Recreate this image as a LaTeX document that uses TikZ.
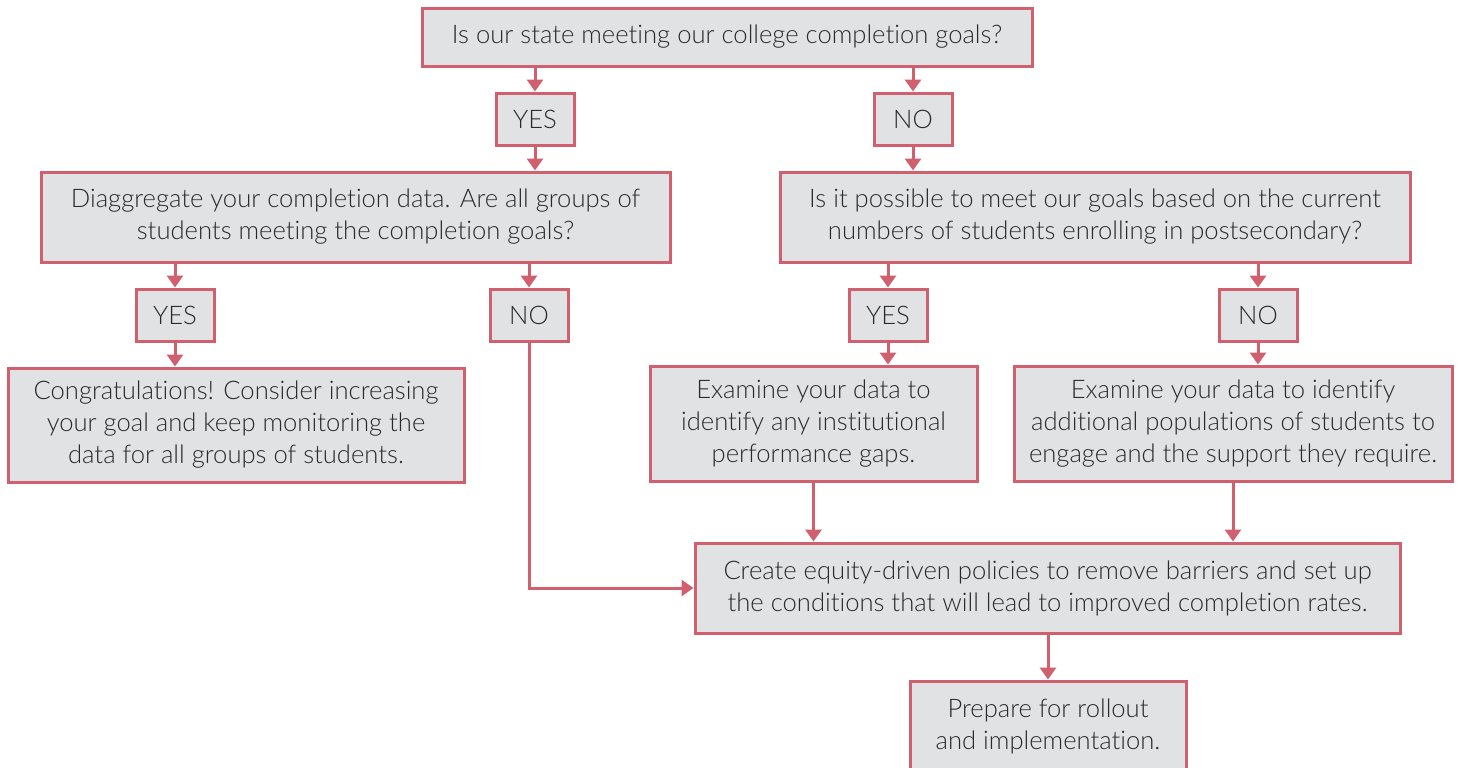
\documentclass[tikz,border=0pt]{standalone}
\usepackage{fontspec}
\setmainfont{Lato}[UprightFont={* Light}, BoldFont={* Regular}, Ligatures={NoCommon}]
\usetikzlibrary{arrows.meta}
\definecolor{bord}{HTML}{D0606E}
\definecolor{boxfill}{HTML}{E1E2E4}
\definecolor{txtc}{HTML}{2A2A2A}
\tikzset{
  box/.style={draw=bord, fill=boxfill, line width=1.5pt, inner sep=0pt, align=center,
    text=txtc, font=\fontsize{12.8pt}{16pt}\selectfont},
  plaintxt/.style={inner sep=0pt, align=center, text=txtc, font=\fontsize{12.8pt}{16pt}\selectfont},
  arr/.style={draw=bord, line width=1.5pt, -{Triangle[width=8pt,length=6pt]}}
}
\begin{document}
\begin{tikzpicture}[x=0.5pt,y=-0.5pt]
\useasboundingbox (0,0) rectangle (1457,767);
\node[box, minimum width=305pt, minimum height=29pt] (top) at (727,37) {Is our state meeting our college completion goals?};
\node[box, minimum width=39pt, minimum height=26pt] (yes1) at (535,119) {YES};
\node[box, minimum width=39pt, minimum height=26pt] (no1) at (913,119) {NO};
\node[box, minimum width=314.5pt, minimum height=45pt] (diag) at (355.5,217) {Diaggregate your completion data. Are all groups of\\students meeting the completion goals?};
\node[box, minimum width=315pt, minimum height=45pt] (poss) at (1095,217) {Is it possible to meet our goals based on the current\\numbers of students enrolling in postsecondary?};
\node[box, minimum width=39pt, minimum height=26pt] (yes2) at (175,315) {YES};
\node[box, minimum width=39pt, minimum height=26pt] (no2) at (529,315) {NO};
\node[box, minimum width=39pt, minimum height=26pt] (yes3) at (888,315) {YES};
\node[box, minimum width=39pt, minimum height=26pt] (no3) at (1258,315) {NO};
\node[box, minimum width=228pt, minimum height=57pt] (cong) at (236,425) {Congratulations! Consider increasing\\your goal and keep monitoring the\\data for all groups of students.};
\node[box, minimum width=163.5pt, minimum height=57.5pt] (ex1) at (813.5,423.5) {Examine your data to\\identify any institutional\\performance gaps.};
\node[box, minimum width=219pt, minimum height=57.5pt] (ex2) at (1233,423.5) {Examine your data to identify\\additional populations of students to\\engage and the support they require.};
\node[box, minimum width=352.5pt, minimum height=45pt] (create) at (1047.5,588) {Create equity-driven policies to remove barriers and set up\\the conditions that will lead to improved completion rates.};
\node[box, minimum width=138pt, minimum height=55pt] (prep) at (1048,736) {};
\node[plaintxt] (preptxt) at (1048,726) {Prepare for rollout\\and implementation.};

\draw[arr] (top.south -| yes1.north) -- (yes1.north);
\draw[arr] (top.south -| no1.north) -- (no1.north);
\draw[arr] (yes1.south) -- (yes1.south |- diag.north);
\draw[arr] (no1.south) -- (no1.south |- poss.north);
\draw[arr] (diag.south -| yes2.north) -- (yes2.north);
\draw[arr] (diag.south -| no2.north) -- (no2.north);
\draw[arr] (poss.south -| yes3.north) -- (yes3.north);
\draw[arr] (poss.south -| no3.north) -- (no3.north);
\draw[arr] (yes2.south) -- (yes2.south |- cong.north);
\draw[arr] (yes3.south) -- (yes3.south |- ex1.north);
\draw[arr] (no3.south) -- (no3.south |- ex2.north);
\draw[arr] (no2.south) |- (create.west);
\draw[arr] (ex1.south) -- (ex1.south |- create.north);
\draw[arr] (ex2.south) -- (ex2.south |- create.north);
\draw[arr] (create.south -| prep.north) -- (prep.north);
\end{tikzpicture}
\end{document}
